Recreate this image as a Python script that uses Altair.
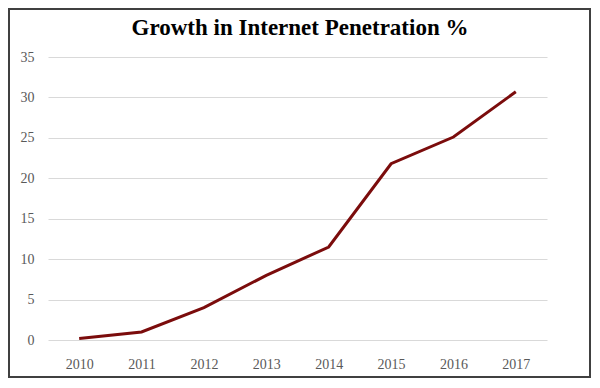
import altair as alt
import pandas as pd

years = ["2010", "2011", "2012", "2013", "2014", "2015", "2016", "2017"]
penetration = [0.2, 1.0, 4.0, 8.0, 11.5, 21.8, 25.1, 30.7]
y_ticks = [0, 5, 10, 15, 20, 25, 30, 35]
title_text = "Growth in Internet Penetration %"

df = pd.DataFrame({"year": years, "value": penetration})
title_df = pd.DataFrame({"t": [title_text]})

PW, PH = 499, 283
PAD = {"left": 40, "top": 49, "right": 44, "bottom": 38}
FONT = "Liberation Serif"

line = alt.Chart(df).mark_line(color="#7b0c0c", strokeWidth=3, strokeJoin="miter").encode(
    x=alt.X("year:O", sort=years,
            scale=alt.Scale(type="point", padding=0.5),
            axis=alt.Axis(title=None, labelAngle=0, domain=False, ticks=False, grid=False,
                          labelPadding=17, labelFontSize=14, labelColor="#595959",
                          labelFont=FONT)),
    y=alt.Y("value:Q",
            scale=alt.Scale(domain=[0, 35], nice=False),
            axis=alt.Axis(title=None, values=y_ticks, domain=False, ticks=False,
                          grid=True, gridColor="#d9d9d9", gridWidth=1,
                          labelPadding=14, labelFontSize=14, labelColor="#595959",
                          labelFont=FONT)),
)

border = alt.Chart(df).mark_rect(fill=None, stroke="#404040", strokeWidth=2, clip=False).encode(
    x=alt.value(-PAD["left"] + 1), x2=alt.value(PW + PAD["right"] - 1),
    y=alt.value(-PAD["top"] + 1), y2=alt.value(PH + PAD["bottom"] - 1),
)

title = alt.Chart(title_df).mark_text(font=FONT, fontSize=23, fontWeight="bold", color="#000000",
                                      align="center", baseline="middle", clip=False).encode(
    text="t:N", x=alt.value(PW / 2 + 2.5), y=alt.value(-29),
)

chart = alt.layer(border, line, title).properties(
    width=PW, height=PH,
    autosize=alt.AutoSizeParams(type="none"),
    padding=PAD,
    background="white",
).configure_view(strokeWidth=0, stroke=None)

chart.save("out.html", embed_options={"renderer": "svg", "actions": False})
